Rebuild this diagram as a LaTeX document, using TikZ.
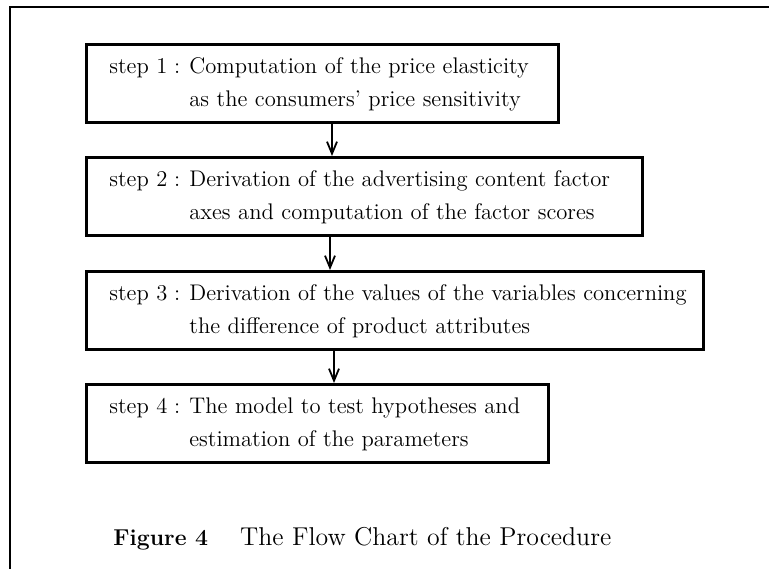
\documentclass[tikz,border=0pt]{standalone}
\usetikzlibrary{arrows.meta}

% two-line step text with the second line hung under the first
\newcommand{\steplines}[3]{%
  \begin{tabular}{@{}l@{}l@{}}\makebox[40pt][l]{step #1\hspace{0.3em}:} & #2\\ & #3\end{tabular}}

\tikzset{
  stepbox/.style={draw, line width=1.4pt, anchor=north west, align=left,
    inner xsep=11.5pt, inner ysep=0pt, text width=#1,
    minimum height=39pt, font=\fontsize{11.3}{16.5}\selectfont},
  flowarrow/.style={line width=0.9pt, -{Straight Barb[length=6pt,width=5pt,line width=0.9pt]}},
  frameline/.style={line width=1pt},
}

\begin{document}
\begin{tikzpicture}[x=0.5pt, y=-0.5pt]
  \useasboundingbox (0,0) rectangle (769,569);

  % outer frame: top and left edges
  \draw[frameline] (769,7) -- (10,7) -- (10,569);

  % the four steps (text width = box width - 2 x inner xsep)
  \node[stepbox=213pt] (b1) at (85,43)
    {\steplines{1}{Computation of the price elasticity}{as the consumers' price sensitivity}};
  \node[stepbox=255pt] (b2) at (85,156)
    {\steplines{2}{Derivation of the advertising content factor}{axes and computation of the factor scores}};
  \node[stepbox=285.5pt] (b3) at (85,270)
    {\steplines{3}{Derivation of the values of the variables concerning}{the difference of product attributes}};
  \node[stepbox=208pt] (b4) at (85,383)
    {\steplines{4}{The model to test hypotheses and}{estimation of the parameters}};

  % arrow columns
  \coordinate (a1) at (332,0);
  \coordinate (a2) at (330,0);
  \coordinate (a3) at (334,0);
  \draw[flowarrow] (b1.south -| a1) -- (b2.north -| a1);
  \draw[flowarrow] (b2.south -| a2) -- (b3.north -| a2);
  \draw[flowarrow] (b3.south -| a3) -- (b4.north -| a3);

  % caption
  \node[anchor=base west, inner sep=0pt] (cap) at (113,545)
    {{\fontsize{11.5}{14}\selectfont\textbf{Figure 4}}\hspace{16pt}{\fontsize{12.9}{14}\selectfont The Flow Chart of the Procedure}};
\end{tikzpicture}
\end{document}
